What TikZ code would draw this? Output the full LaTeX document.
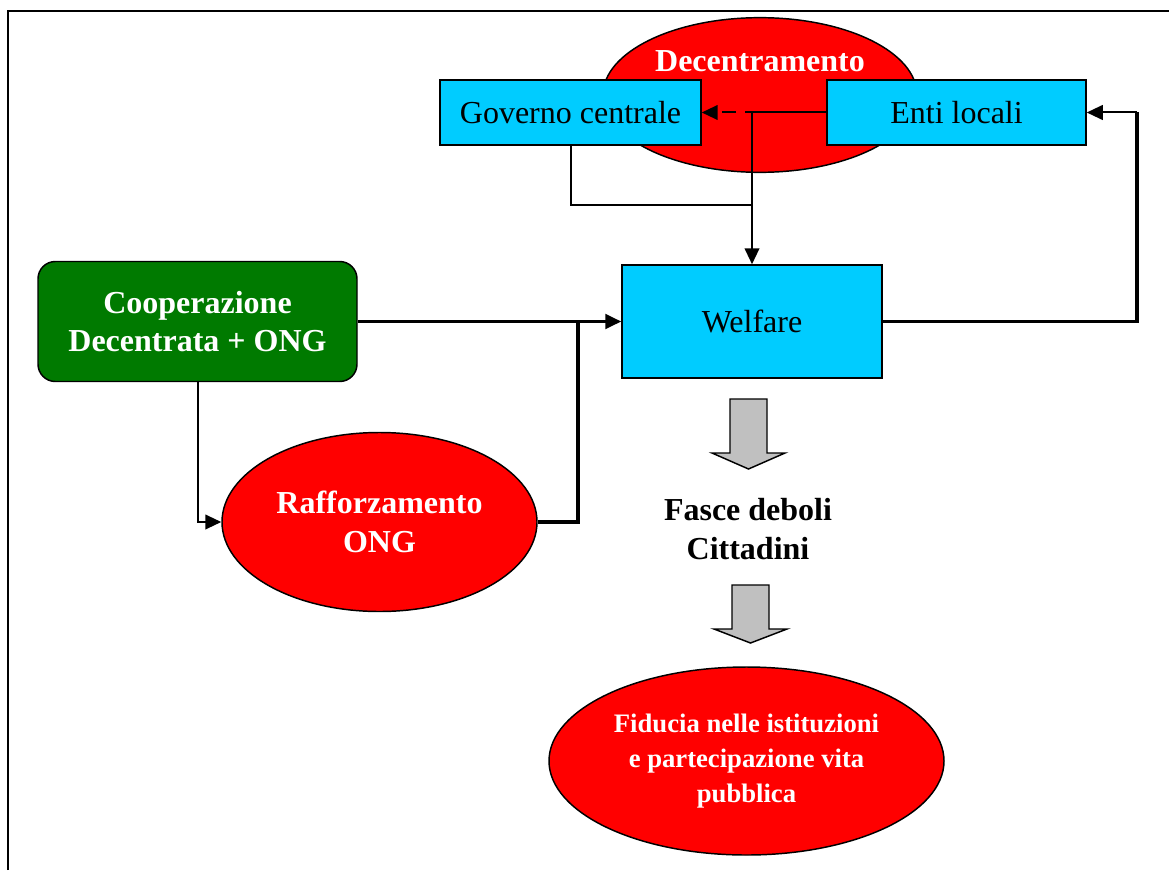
\documentclass[tikz,border=0pt]{standalone}
\usepackage{fontspec}
\setmainfont{Liberation Serif}
\usetikzlibrary{shapes.geometric,arrows.meta}
\definecolor{boxcyan}{HTML}{00CCFF}
\definecolor{ovalred}{HTML}{FF0000}
\definecolor{coopgreen}{HTML}{007A00}
\definecolor{arrowgray}{HTML}{C0C0C0}
\tikzset{
  bigfont/.style={font=\fontsize{24}{29}\selectfont},
  cyanbox/.style={draw=black, line width=1.1pt, fill=boxcyan, rectangle, inner sep=0pt, bigfont, align=center},
  redoval/.style={draw=black, line width=1.1pt, fill=ovalred, ellipse, inner sep=0pt, text=white, align=center, font=\bfseries\fontsize{24}{29}\selectfont},
  greenbox/.style={draw=black, line width=1.1pt, fill=coopgreen, rectangle, rounded corners=13pt, inner sep=0pt, text=white, align=center, font=\bfseries\fontsize{24}{29}\selectfont},
  conn/.style={line width=1.5pt, draw=black},
  thickconn/.style={line width=2.4pt, draw=black},
  tip/.style={-{Triangle[length=12pt,width=11pt]}},
  blockarrow/.style={draw=black, line width=1.1pt, fill=arrowgray},
}
\begin{document}
\begin{tikzpicture}[x=0.75pt,y=-0.75pt]
\useasboundingbox (0,0) rectangle (1169,870);
% frame
\draw[line width=1.6pt] (8,870) -- (8,11) -- (1169,11);

% Decentramento ellipse (behind boxes)
\node[redoval, minimum width=235.5pt, minimum height=116pt,
      label={[name=dectext, text=white, font=\bfseries\fontsize{24}{29}\selectfont, yshift=25pt]center:Decentramento}]
      (dec) at (760,95) {};

% boxes
\node[cyanbox, minimum width=195.75pt, minimum height=48.75pt] (gov) at (570.5,112.5) {Governo centrale};
\node[cyanbox, minimum width=194.25pt, minimum height=48.75pt] (enti) at (956.5,112.5) {Enti locali};
\node[cyanbox, minimum width=195pt, minimum height=84.75pt] (welf) at (752,321.5) {Welfare};
\node[greenbox, minimum width=239.25pt, minimum height=90pt] (coop) at (197.5,321.5) {Cooperazione\\Decentrata + ONG};
\node[redoval, minimum width=236.25pt, minimum height=134.25pt] (raff) at (379.5,522) {Rafforzamento\\ONG};
\node[redoval, minimum width=296.25pt, minimum height=141pt, font=\bfseries\fontsize{20}{26}\selectfont] (fid) at (746.5,761)
  {Fiducia nelle istituzioni\\e partecipazione vita\\pubblica};
\node[align=center, font=\bfseries\fontsize{24}{29}\selectfont] (fasce) at (748,529) {Fasce deboli\\Cittadini};

% junction coordinates
\coordinate (jgov) at (752,205);
\coordinate (jraff) at (578,321.5);
\coordinate (jright) at (1137,112.5);

% connectors
\draw[conn, tip, dash pattern=on 10pt off 7pt] (enti.west) -- (gov.east);
\draw[conn, tip] (enti.west) -| (welf.north);
\draw[conn] (gov.south) |- (jgov);
\draw[thickconn, tip] (coop.east) -- (welf.west);
\draw[thickconn] (raff.east) -| (jraff);
\draw[conn, tip] (coop.south) |- (raff.west);
\draw[thickconn] (welf.east) -| (jright);
\draw[conn, tip] (jright) -- (enti.east);

% block arrows
\draw[blockarrow] (730,399) -- (767,399) -- (767,453) -- (785,453) -- (748.5,469) -- (712,453) -- (730,453) -- cycle;
\draw[blockarrow] (732,585) -- (769,585) -- (769,629) -- (787,629) -- (750.5,643) -- (714,629) -- (732,629) -- cycle;
\end{tikzpicture}
\end{document}
